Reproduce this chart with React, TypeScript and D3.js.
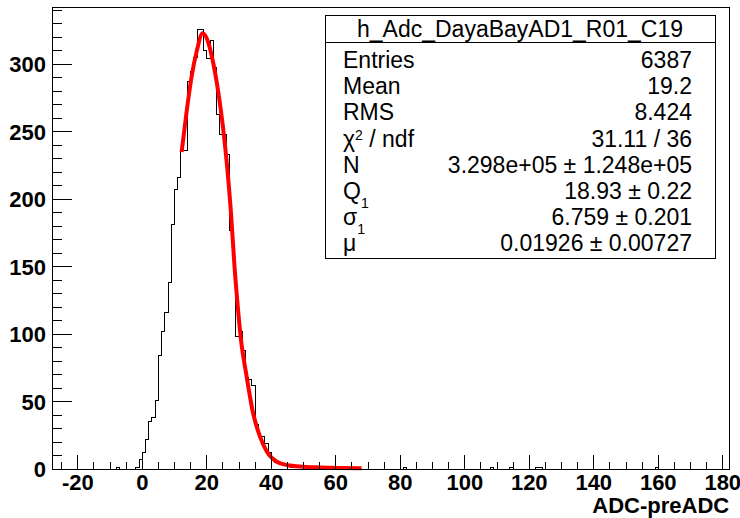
import { useEffect, useRef } from "react"
import * as d3 from "d3"

const W = 740
const H = 518

// h_Adc_DayaBayAD1_R01_C19 : unit bins on [-28, 182)
const xLimits = [-28, 182]
const binLow = -8
const counts = [
  1, 0, 0, 0, 0, 0, 1, 7, 12, 22, 35, 38, 51, 84, 102, 116, 138, 181, 207, 216,
  236, 236, 287, 295, 305, 326, 326, 310, 304, 318, 298, 263, 248, 248, 233, 177,
  156, 98, 102, 88, 68, 66, 62, 33, 24, 24, 19, 12, 7, 5, 4, 3, 4, 2, 1, 2, 1, 1,
  1, 0, 1, 0, 0, 1,
]
// lone entries far in the tail
const tailBins = [81, 108, 114, 122, 123, 159]
const tailCounts = [1, 1, 1, 1, 1, 1]

// fitted curve
const fitX = [12.2, 13.8, 15.3, 16.9, 18.7, 20.5, 22.0, 23.6, 25.0, 26.2, 27.5, 28.6, 29.7, 30.5, 32.4, 34.4, 36.5, 38.6, 41.7, 44.8, 49.9, 55.1, 61, 68]
const fitY = [235, 266, 291, 310, 323, 316, 301, 279, 254, 227, 190, 150, 118, 98, 68, 41, 24, 13, 5.4, 3, 1.7, 1.2, 0.8, 0.6]

const xTicks = [-20, 0, 20, 40, 60, 80, 100, 120, 140, 160, 180]
const yTicks = [0, 50, 100, 150, 200, 250, 300]

const statsTitle = "h_Adc_DayaBayAD1_R01_C19"
const statLabels = ["Entries", "Mean", "RMS", "χ^2 / ndf", "N", "Q_1", "σ_1", "μ"]
const statValues = [
  "6387",
  "19.2",
  "8.424",
  "31.11 / 36",
  "3.298e+05 ± 1.248e+05",
  "18.93 ± 0.22",
  "6.759 ± 0.201",
  "0.01926 ± 0.00727",
]

const FONT = "'Liberation Sans', Arial, Helvetica, sans-serif"

export default function App() {
  const ref = useRef<SVGSVGElement>(null)

  useEffect(() => {
    const svg = d3.select(ref.current)
    svg.selectAll("*").remove()

    const frame = { left: 52, right: 729.2, top: 7.3, bottom: 469 }

    // full bin content
    const nb = xLimits[1] - xLimits[0]
    const content = new Array(nb).fill(0)
    counts.forEach((c, i) => (content[binLow + i - xLimits[0]] = c))
    tailBins.forEach((b, i) => (content[b - xLimits[0]] = tailCounts[i]))

    const x = d3.scaleLinear().domain(xLimits).range([frame.left, frame.right])
    const y = d3
      .scaleLinear()
      .domain([0, (d3.max(content) as number) * 1.05])
      .range([frame.bottom, frame.top])

    svg.append("rect").attr("width", W).attr("height", H).attr("fill", "#fff")

    // histogram outline
    const pts: [number, number][] = [[x(xLimits[0]), y(0)]]
    content.forEach((c, i) => {
      const lo = xLimits[0] + i
      pts.push([x(lo), y(c)])
      pts.push([x(lo + 1), y(c)])
    })
    pts.push([x(xLimits[1]), y(0)])
    svg
      .append("path")
      .attr("d", d3.line()(pts))
      .attr("fill", "none")
      .attr("stroke", "#000")
      .attr("stroke-width", 1)
      .attr("shape-rendering", "crispEdges")

    // fit
    const fitLine = d3
      .line<number>()
      .x((d) => x(d))
      .y((_, i) => y(fitY[i]))
      .curve(d3.curveMonotoneX)
    svg
      .append("path")
      .attr("d", fitLine(fitX))
      .attr("fill", "none")
      .attr("stroke", "#ff0000")
      .attr("stroke-width", 4)
      .attr("stroke-linejoin", "round")

    // frame
    svg
      .append("rect")
      .attr("x", frame.left)
      .attr("y", frame.top)
      .attr("width", frame.right - frame.left)
      .attr("height", frame.bottom - frame.top)
      .attr("fill", "none")
      .attr("stroke", "#000")
      .attr("shape-rendering", "crispEdges")

    const axes = svg.append("g").attr("stroke", "#000").attr("shape-rendering", "crispEdges")

    // x ticks
    for (let v = -25; v <= 180; v += 5) {
      const major = v % 20 === 0
      axes
        .append("line")
        .attr("x1", x(v))
        .attr("x2", x(v))
        .attr("y1", frame.bottom)
        .attr("y2", frame.bottom - (major ? 14 : 7))
    }
    // y ticks
    for (let v = 0; v <= 340; v += 10) {
      const major = v % 50 === 0
      axes
        .append("line")
        .attr("x1", frame.left)
        .attr("x2", frame.left + (major ? 20 : 10))
        .attr("y1", y(v))
        .attr("y2", y(v))
    }

    svg
      .append("g")
      .selectAll("text")
      .data(xTicks)
      .join("text")
      .attr("x", (d) => x(d))
      .attr("y", 490)
      .attr("text-anchor", "middle")
      .attr("font-family", FONT)
      .attr("font-weight", "bold")
      .attr("font-size", 22)
      .text((d) => d)

    svg
      .append("g")
      .selectAll("text")
      .data(yTicks)
      .join("text")
      .attr("x", 46)
      .attr("y", (d) => y(d) + 8)
      .attr("text-anchor", "end")
      .attr("font-family", FONT)
      .attr("font-weight", "bold")
      .attr("font-size", 22)
      .text((d) => d)

    svg
      .append("text")
      .attr("x", frame.right)
      .attr("y", 513)
      .attr("text-anchor", "end")
      .attr("font-family", FONT)
      .attr("font-weight", "bold")
      .attr("font-size", 22)
      .text("ADC-preADC")

    // stats box
    const box = { left: 325, top: 15, right: 715, bottom: 258, head: 42 }
    const st = svg.append("g").attr("font-family", FONT).attr("font-size", 23)
    st.append("rect")
      .attr("x", box.left)
      .attr("y", box.top)
      .attr("width", box.right - box.left)
      .attr("height", box.bottom - box.top)
      .attr("fill", "#fff")
      .attr("stroke", "#000")
      .attr("shape-rendering", "crispEdges")
    st.append("line")
      .attr("x1", box.left)
      .attr("x2", box.right)
      .attr("y1", box.head)
      .attr("y2", box.head)
      .attr("stroke", "#000")
      .attr("shape-rendering", "crispEdges")
    st.append("text")
      .attr("x", (box.left + box.right) / 2)
      .attr("y", 37)
      .attr("text-anchor", "middle")
      .text(statsTitle)

    statLabels.forEach((lab, i) => {
      const base = 68 + 26.2 * i
      const t = st.append("text").attr("x", 343).attr("y", base)
      const m = lab.match(/^(.)([\^_])(\d)(.*)$/)
      if (m) {
        const shift = m[2] === "^" ? -7 : 9
        t.append("tspan").text(m[1])
        t.append("tspan").attr("font-size", 14).attr("dy", shift).text(m[3])
        if (m[4]) t.append("tspan").attr("dy", -shift).text(m[4])
      } else {
        t.text(lab)
      }
      st.append("text")
        .attr("x", 692)
        .attr("y", base)
        .attr("text-anchor", "end")
        .text(statValues[i])
    })
  }, [])

  return (
    <svg
      ref={ref}
      width={W}
      height={H}
      style={{ position: "absolute", left: 0, top: 0, display: "block" }}
    />
  )
}
